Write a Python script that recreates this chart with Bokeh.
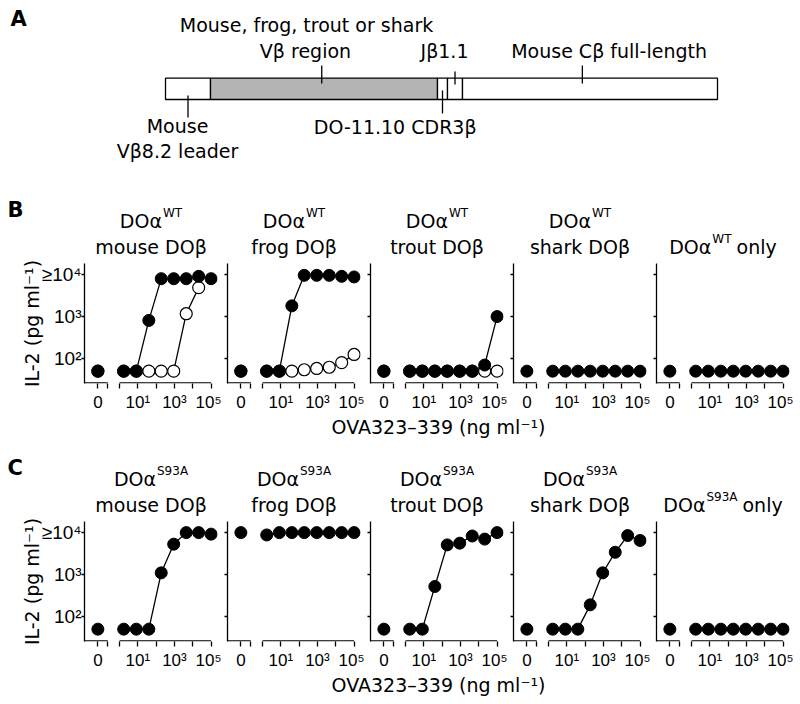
import math
from bokeh.plotting import figure
from bokeh.models import Range1d, FixedTicker, Label
from bokeh.layouts import column, row
from bokeh.embed import file_html
from bokeh.resources import INLINE

NAN = float("nan")

# ---------------- data ----------------
# OVA323-339 doses (ng/ml); the first one is "0" (no peptide)
DOSES = [0, 1.7, 8.3, 40, 190, 910, 4400, 21000, 100000]
X_TICK_DECADES = [0, 1, 2, 3, 4, 5]
X_TICK_LABELS = ["", "10¹", "", "10³", "", "10⁵"]
ZERO_LABEL = "0"
Y_TICKS = [100, 1000, 10000]          # IL-2, pg/ml
Y_TICK_LABELS = ["10²", "10³", "≥10⁴"]

# Panel B (DOalpha WT): filled and open series
B_MOUSE_FILLED = [50, 50, 50, 810, 8000, 8000, 8000, 9100, 8000]
B_MOUSE_OPEN = [50, 50, 50, 50, 50, 50, 1170, 4900, NAN]
B_FROG_FILLED = [50, 50, 50, 1800, 9600, 9600, 9600, 9100, 8800]
B_FROG_OPEN = [50, 50, 50, 50, 54, 58, 62, 80, 125]
B_TROUT_FILLED = [50, 50, 50, 50, 50, 50, 50, 70, 1000]
B_TROUT_OPEN = [50, 50, 50, 50, 50, 50, 50, 50, 50]
B_SHARK_FILLED = [50, 50, 50, 50, 50, 50, 50, 50, 50]
B_ONLY_FILLED = [50, 50, 50, 50, 50, 50, 50, 50, 50]

# Panel C (DOalpha S93A)
C_MOUSE_FILLED = [50, 50, 50, 50, 1100, 5300, 10000, 10000, 9200]
C_FROG_FILLED = [10000, 8800, 10000, 10000, 10000, 10000, 10000, 10000, 10000]
C_TROUT_FILLED = [50, 50, 50, 520, 5100, 5600, 8300, 7000, 10000]
C_SHARK_FILLED = [50, 50, 50, 50, 190, 1100, 3400, 8500, 6500]
C_ONLY_FILLED = [50, 50, 50, 50, 50, 50, 50, 50, 50]

PARTNERS = ["mouse DOβ", "frog DOβ", "trout DOβ", "shark DOβ", None]
B_ALPHA = "WT"
C_ALPHA = "S93A"

# Panel A construct (schematic segment lengths)
A_SEGMENTS = ["Mouse Vβ8.2 leader", "Vβ region", "DO-11.10 CDR3β", "Jβ1.1", "Mouse Cβ full-length"]
A_LENGTHS = [45, 227, 10, 15, 255]
A_FILLS = ["white", "#b4b4b4", "white", "white", "white"]
A_POINTER_FRAC = [0.5, 0.49, 0.5, 0.5, 0.47]

# ---------------- style / layout ----------------
TXT = "DejaVu Sans"
TICK = "Liberation Sans"
FS = 19
SUP_FS = 12
LW = 1.3
MS = 12
BASE_FIX = 0.37     # empirical shift of Label's alphabetic baseline (x font size)

X0, X1 = -1.91, 5.35          # log10 dose range of a subplot frame
ZERO_X, ZERO_END = -1.18, -0.64
Y0L, Y1L = 1.405, 4.265       # log10 IL-2 range
FRAME_W, FRAME_H = 133, 121
FIRST_LEFT, LEFT, RIGHT = 84, 6, 4
TOP_B, BOT_B = 3, 30
TITLE_H = 70
PPD_Y = FRAME_H / (Y1L - Y0L)
STEP = LEFT + FRAME_W + RIGHT
TOTAL_W = FIRST_LEFT + FRAME_W + RIGHT + 4 * STEP
FRAME_CENTERS = [FIRST_LEFT + k * STEP + FRAME_W / 2 for k in range(5)]

W_DOA = 42.1
W_SUP = {"WT": 19.2, "S93A": 31.1}
W_ONLY = 40.2


def plain(p):
    p.grid.visible = False
    p.outline_line_color = None
    p.background_fill_color = "white"
    p.border_fill_color = "white"


def lab(p, x, y, text, size=FS, font=TXT, align="left",
        base="alphabetic", style="normal"):
    if base == "alphabetic":
        y = y - BASE_FIX * size
    p.add_layout(Label(x=x, y=y, text=text,
                       text_font=font, text_font_size=f"{size}px",
                       text_font_style=style, text_color="black",
                       text_align=align, text_baseline=base))


def canvas_fig(h):
    p = figure(width=TOTAL_W, height=h, x_range=Range1d(0, TOTAL_W),
               y_range=Range1d(h, 0), output_backend="svg",
               toolbar_location=None, min_border=0)
    plain(p)
    p.axis.visible = False
    return p


def subplot(filled, opened, first):
    bl = FIRST_LEFT if first else LEFT
    p = figure(width=bl + FRAME_W + RIGHT, height=TOP_B + FRAME_H + BOT_B,
               x_range=Range1d(X0, X1),
               y_range=Range1d(10 ** Y0L, 10 ** Y1L), y_axis_type="log",
               output_backend="svg", toolbar_location=None,
               min_border_left=bl, min_border_right=RIGHT,
               min_border_top=TOP_B, min_border_bottom=BOT_B)
    plain(p)

    # x axis (broken: "0" part and the log part)
    p.xaxis.ticker = FixedTicker(ticks=[ZERO_X, ZERO_END] + X_TICK_DECADES)
    over = {ZERO_X: ZERO_LABEL, ZERO_END: ""}
    for d, t in zip(X_TICK_DECADES, X_TICK_LABELS):
        over[d] = t
    p.xaxis.major_label_overrides = over
    p.xaxis.axis_line_color = None
    p.xaxis.major_tick_out = 5
    p.xaxis.major_tick_in = 0
    p.xaxis.minor_tick_out = 0
    p.xaxis.minor_tick_in = 0
    p.xaxis.major_tick_line_width = LW
    p.xaxis.major_tick_line_color = "black"
    p.xaxis.major_label_text_font = TICK
    p.xaxis.major_label_text_font_size = "17px"
    p.xaxis.major_label_text_color = "black"
    p.xaxis.major_label_standoff = 4
    yb = 10 ** (Y0L + 0.65 / PPD_Y)
    p.segment(x0=[X0, X_TICK_DECADES[0]], y0=[yb, yb],
              x1=[ZERO_END, X_TICK_DECADES[-1]], y1=[yb, yb],
              line_color="black", line_width=LW)

    # y axis
    p.yaxis.ticker = FixedTicker(ticks=Y_TICKS)
    if first:
        p.yaxis.major_label_overrides = dict(zip(Y_TICKS, Y_TICK_LABELS))
        p.yaxis.axis_label = "IL-2 (pg ml⁻¹)"
        p.yaxis.axis_label_text_font = TXT
        p.yaxis.axis_label_text_font_size = f"{FS}px"
        p.yaxis.axis_label_text_font_style = "normal"
        p.yaxis.axis_label_text_color = "black"
        p.yaxis.axis_label_standoff = -4
    else:
        p.yaxis.major_label_overrides = {t: "" for t in Y_TICKS}
    p.yaxis.major_label_text_font = TICK
    p.yaxis.major_label_text_font_size = f"{FS}px"
    p.yaxis.major_label_text_color = "black"
    p.yaxis.major_label_standoff = 0
    p.yaxis.major_tick_out = 3
    p.yaxis.major_tick_in = 0
    p.yaxis.minor_tick_out = 0
    p.yaxis.minor_tick_in = 0
    p.yaxis.axis_line_width = LW
    p.yaxis.axis_line_color = "black"
    p.yaxis.major_tick_line_width = LW
    p.yaxis.major_tick_line_color = "black"

    xs = [ZERO_X if d == 0 else math.log10(d) for d in DOSES]
    if opened is not None:
        p.line(xs[1:], opened[1:], line_color="black", line_width=LW)
        p.scatter(xs, opened, marker="circle", size=MS, fill_color="white",
                  line_color="black", line_width=1.2)
    p.line(xs[1:], filled[1:], line_color="black", line_width=LW)
    p.scatter(xs, filled, marker="circle", size=MS, fill_color="black",
              line_color="black", line_width=1)
    return p


def title_fig(letter, alpha):
    # baselines measured from the top of this strip
    L1, L2 = 37.3, 63.3
    p = canvas_fig(TITLE_H)
    lab(p, 7, 27, letter, size=21, style="bold")
    ws = W_SUP[alpha]
    for xc, partner in zip(FRAME_CENTERS, PARTNERS):
        if partner is not None:
            r = xc - (W_DOA + 1 + ws) / 2 + W_DOA
            lab(p, r, L1, "DOα", align="right")
            lab(p, r + 1, L1 - 10.5, alpha, size=SUP_FS)
            lab(p, xc, L2, partner, align="center")
        else:
            tot = W_DOA + 1 + ws + 5 + W_ONLY
            r = xc - tot / 2 + W_DOA
            lab(p, r, L2, "DOα", align="right")
            lab(p, r + 1, L2 - 10.5, alpha, size=SUP_FS)
            lab(p, r + 1 + ws + 5, L2, "only")
    return p


def xlabel_fig(h, yc):
    p = canvas_fig(h)
    lab(p, 438, yc, "OVA323–339 (ng ml⁻¹)", align="center", base="middle")
    return p


# ---------------- panel A ----------------
pa = canvas_fig(190)
bar_left = 165
lefts, rights = [], []
cur = bar_left
for L in A_LENGTHS:
    lefts.append(cur)
    rights.append(cur + L)
    cur += L
pa.quad(left=lefts, right=rights, top=[77.7] * 5, bottom=[99] * 5,
        fill_color=A_FILLS, line_color="black", line_width=LW)
px = [l + f * L for l, f, L in zip(lefts, A_POINTER_FRAC, A_LENGTHS)]
py0 = [95, 65, 90, 71, 65]
py1 = [117, 83, 113, 84, 83]
pa.segment(x0=px, y0=py0, x1=px, y1=py1, line_color="black", line_width=LW)
lab(pa, 10, 26.7, "A", size=21, style="bold")
lab(pa, 306, 31.5, "Mouse, frog, trout or shark", align="center")
lab(pa, 305, 57.6, A_SEGMENTS[1], align="center")
lab(pa, 444, 57.6, A_SEGMENTS[3], align="center")
lab(pa, 608.6, 57.6, A_SEGMENTS[4], align="center")
lab(pa, 177, 133, "Mouse", align="center")
lab(pa, 177, 158, "Vβ8.2 leader", align="center")
lab(pa, 394.7, 134, A_SEGMENTS[2], align="center")

# ---------------- panels B and C ----------------
B_F = [B_MOUSE_FILLED, B_FROG_FILLED, B_TROUT_FILLED, B_SHARK_FILLED, B_ONLY_FILLED]
B_O = [B_MOUSE_OPEN, B_FROG_OPEN, B_TROUT_OPEN, None, None]
C_F = [C_MOUSE_FILLED, C_FROG_FILLED, C_TROUT_FILLED, C_SHARK_FILLED, C_ONLY_FILLED]

rowB = row([subplot(B_F[i], B_O[i], i == 0) for i in range(5)], spacing=0)
rowC = row([subplot(C_F[i], None, i == 0) for i in range(5)], spacing=0)

layout = column(pa, title_fig("B", B_ALPHA), rowB, xlabel_fig(34, 12),
                title_fig("C", C_ALPHA), rowC, xlabel_fig(28, 12), spacing=0)
open("out.html", "w").write(file_html(layout, INLINE))
